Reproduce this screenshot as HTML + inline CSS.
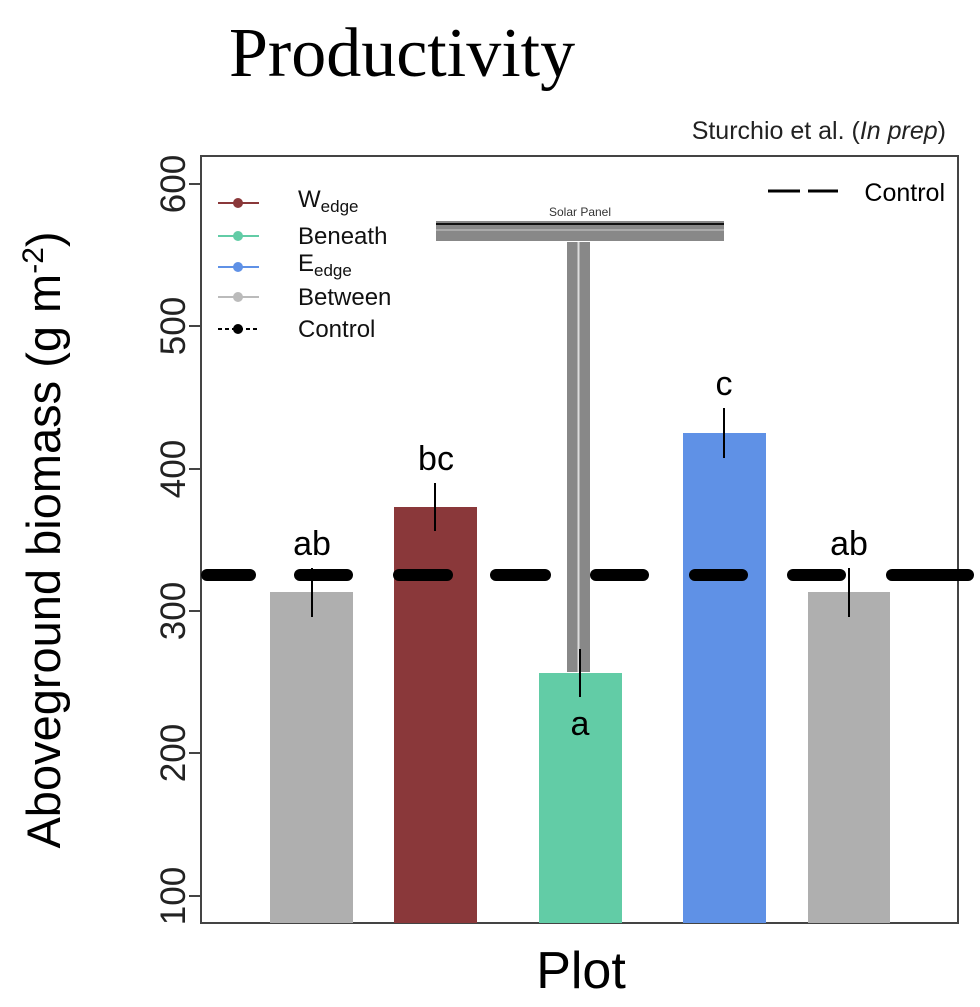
<!DOCTYPE html>
<html><head><style>body{margin:0;background:#fff}</style></head><body>
<svg width="980" height="1002" xmlns="http://www.w3.org/2000/svg" font-family="Liberation Sans, sans-serif">
<text x="229" y="76" font-family="Liberation Serif, serif" font-size="70">Productivity</text>
<text x="946" y="139" font-size="25" text-anchor="end" fill="#222">Sturchio et al. (<tspan font-style="italic">In prep</tspan>)</text>
<rect x="201" y="156" width="757" height="767" fill="none" stroke="#444" stroke-width="2"/>
<g stroke="#444" stroke-width="2">
<line x1="189" y1="184" x2="201" y2="184"/><line x1="189" y1="326" x2="201" y2="326"/><line x1="189" y1="469" x2="201" y2="469"/><line x1="189" y1="611" x2="201" y2="611"/><line x1="189" y1="753" x2="201" y2="753"/><line x1="189" y1="896" x2="201" y2="896"/>
</g>
<g font-size="35" fill="#222" text-anchor="middle">
<text transform="translate(185,184) rotate(-90)">600</text>
<text transform="translate(185,326) rotate(-90)">500</text>
<text transform="translate(185,469) rotate(-90)">400</text>
<text transform="translate(185,611) rotate(-90)">300</text>
<text transform="translate(185,753) rotate(-90)">200</text>
<text transform="translate(185,896) rotate(-90)">100</text>
</g>
<text transform="translate(60,540) rotate(-90)" font-size="47" text-anchor="middle">Aboveground biomass (g m<tspan dy="-17" font-size="30">-2</tspan><tspan dy="17">)</tspan></text>
<text x="581" y="988" font-size="52" text-anchor="middle">Plot</text>
<rect x="270" y="592" width="83" height="331" fill="#afafaf"/>
<rect x="394" y="507" width="83" height="416" fill="#8a383a"/>
<rect x="539" y="673" width="83" height="250" fill="#62cca6"/>
<rect x="683" y="433" width="83" height="490" fill="#5f91e6"/>
<rect x="808" y="592" width="82" height="331" fill="#afafaf"/>
<rect x="436" y="221" width="288" height="20" fill="#888"/>
<line x1="436" y1="224" x2="724" y2="224" stroke="#111" stroke-width="2"/>
<line x1="436" y1="230" x2="724" y2="230" stroke="#ccc" stroke-width="1"/>
<rect x="567" y="242" width="23" height="430" fill="#888"/>
<line x1="578.5" y1="242" x2="578.5" y2="672" stroke="#ddd" stroke-width="2"/>
<text x="580" y="216" font-size="12" text-anchor="middle" fill="#333">Solar Panel</text>
<g stroke="#000" stroke-width="12" stroke-linecap="round">
<line x1="207" y1="575" x2="250" y2="575"/><line x1="300" y1="575" x2="347" y2="575"/><line x1="399" y1="575" x2="447" y2="575"/><line x1="496" y1="575" x2="545" y2="575"/><line x1="596" y1="575" x2="643" y2="575"/><line x1="695" y1="575" x2="742" y2="575"/><line x1="793" y1="575" x2="840" y2="575"/><line x1="892" y1="575" x2="968" y2="575"/>
</g>
<g stroke="#000" stroke-width="2">
<line x1="312" y1="568" x2="312" y2="617"/><line x1="435" y1="483" x2="435" y2="531"/><line x1="580" y1="649" x2="580" y2="697"/><line x1="724" y1="408" x2="724" y2="458"/><line x1="849" y1="568" x2="849" y2="617"/>
</g>
<g font-size="34" text-anchor="middle">
<text x="312" y="555">ab</text><text x="436" y="470">bc</text><text x="580" y="735">a</text><text x="724" y="395">c</text><text x="849" y="555">ab</text>
</g>
<g stroke-width="2">
<line x1="218" y1="203" x2="259" y2="203" stroke="#8a383a"/><circle cx="238" cy="203" r="5" fill="#8a383a"/>
<line x1="218" y1="236" x2="259" y2="236" stroke="#62cca6"/><circle cx="238" cy="236" r="5" fill="#62cca6"/>
<line x1="218" y1="267" x2="259" y2="267" stroke="#5f91e6"/><circle cx="238" cy="267" r="5" fill="#5f91e6"/>
<line x1="218" y1="297" x2="259" y2="297" stroke="#bbb"/><circle cx="238" cy="297" r="5" fill="#bbb"/>
<line x1="218" y1="329" x2="259" y2="329" stroke="#000" stroke-dasharray="4,3"/><circle cx="238" cy="329" r="5" fill="#000"/>
</g>
<g font-size="24" fill="#111">
<text x="298" y="207">W<tspan font-size="17" dy="5">edge</tspan></text>
<text x="298" y="244">Beneath</text>
<text x="298" y="271">E<tspan font-size="17" dy="5">edge</tspan></text>
<text x="298" y="305">Between</text>
<text x="298" y="337">Control</text>
</g>
<g stroke="#000" stroke-width="3"><line x1="768" y1="191" x2="800" y2="191"/><line x1="808" y1="191" x2="838" y2="191"/></g>
<text x="945" y="201" font-size="25" text-anchor="end">Control</text>
</svg>
</body></html>
